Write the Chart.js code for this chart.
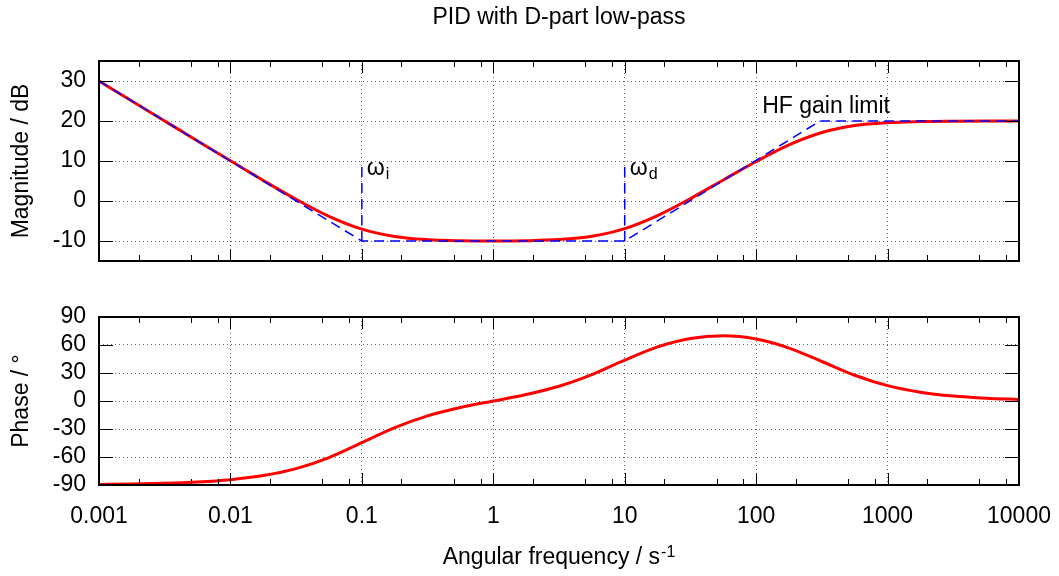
<!DOCTYPE html>
<html>
<head>
<meta charset="utf-8">
<script src="https://cdn.jsdelivr.net/npm/chart.js@4.4.1/dist/chart.umd.min.js"></script>
<style>
html, body { margin: 0; padding: 0; background: #fff; }
#wrap { position: relative; width: 1059px; height: 576px; overflow: hidden; background: #fff; }
canvas { position: absolute; left: 0; }
#magChart { top: 0; width: 1059px; height: 290px; }
#phaseChart { top: 290px; width: 1059px; height: 286px; }
</style>
</head>
<body>
<div id="wrap">
  <canvas id="magChart" width="1059" height="290"></canvas>
  <canvas id="phaseChart" width="1059" height="286"></canvas>
</div>
<script>
// ---- data ----
const frequency = [0.001, 0.001778, 0.003162, 0.005623, 0.01, 0.01778, 0.03162, 0.05623,
  0.1, 0.1778, 0.3162, 0.5623, 1, 1.778, 3.162, 5.623, 10, 17.78, 31.62, 56.23,
  100, 177.8, 316.2, 562.3, 1000, 1778, 3162, 5623, 10000];
const magnitudeDb = [30.0, 25.0, 20.0, 15.01, 10.04, 5.13, 0.41, -3.83,
  -7.03, -8.87, -9.66, -9.94, -10.0, -9.93, -9.64, -8.80, -6.89, -3.63, 0.61, 5.26,
  9.88, 14.03, 17.13, 18.87, 19.60, 19.86, 19.95, 19.98, 19.99];
const phaseDeg = [-89.43, -88.98, -88.19, -86.78, -84.29, -79.91, -72.43, -60.57,
  -44.71, -28.57, -15.89, -6.93, 0, 6.93, 15.84, 28.31, 43.76, 58.0, 67.06, 69.81,
  66.37, 56.72, 42.31, 27.57, 16.46, 9.45, 5.35, 3.02, 1.70];
const asymptoteFreq = [0.001, 0.1, 10, 306, 10000];
const asymptoteDb = [30, -10, -10, 20, 20];
const cornerFreq = [0.1, 10];
const cornerSubscripts = ['i', 'd'];
const cornerMarkDb = [-10, 10];
const hfLabelAt = [100, 20];
const xTickValues = [0.001, 0.01, 0.1, 1, 10, 100, 1000, 10000];
const xTickLabels = ['0.001', '0.01', '0.1', '1', '10', '100', '1000', '10000'];
const minorMultipliers = [2, 5, 8];
const magTickValues = [-10, 0, 10, 20, 30];
const phaseTickValues = [-90, -60, -30, 0, 30, 60, 90];
const chartTitle = 'PID with D-part low-pass';
const magTitle = 'Magnitude / dB';
const phaseTitle = 'Phase / °';
const xTitleMain = 'Angular frequency / s';
const xTitleSup = '-1';
const hfLabel = 'HF gain limit';

// ---- styling ----
const FONT = '"Liberation Sans", Arial, Helvetica, sans-serif';
Chart.defaults.font.family = FONT;
Chart.defaults.font.size = 23;
Chart.defaults.color = '#000';
const gridColor = 'rgba(0,0,0,0.6)';

function xAxis(showLabels, height) {
  return {
    type: 'logarithmic',
    min: xTickValues[0],
    max: xTickValues[xTickValues.length - 1],
    afterBuildTicks: s => { s.ticks = xTickValues.map(v => ({ value: v, major: true })); },
    ticks: { display: showLabels, autoSkip: false, maxRotation: 0, minRotation: 0, padding: 18,
      callback: (v, i) => xTickLabels[i], font: { size: 23 }, color: '#000' },
    grid: { color: gridColor, lineWidth: 1, drawTicks: false },
    border: { display: false, dash: [1, 3] },
    afterFit: s => { s.height = height; s.paddingLeft = 0; s.paddingRight = 0; }
  };
}
function yAxis(min, max, tickValues, title) {
  return {
    min, max,
    afterBuildTicks: s => { s.ticks = tickValues.map(v => ({ value: v })); },
    ticks: { padding: 13, autoSkip: false, font: { size: 23 }, color: '#000' },
    grid: { color: gridColor, lineWidth: 1, drawTicks: false },
    border: { display: false, dash: [1, 3] },
    title: { display: true, text: title, font: { size: 23 }, color: '#000', padding: { top: 8, bottom: 0 } },
    afterFit: s => { s.width = 99; s.paddingTop = 0; s.paddingBottom = 0; }
  };
}

const framePlugin = {
  id: 'gnuFrame',
  afterDraw(chart) {
    const { ctx, chartArea: a } = chart;
    const x = chart.scales.x, y = chart.scales.y;
    ctx.save();
    ctx.setLineDash([]);
    ctx.strokeStyle = '#000';
    ctx.lineWidth = 1;
    ctx.beginPath();
    const vtick = (v, len) => {
      const px = Math.round(x.getPixelForValue(v)) + 0.5;
      ctx.moveTo(px, a.top); ctx.lineTo(px, a.top + len);
      ctx.moveTo(px, a.bottom); ctx.lineTo(px, a.bottom - len);
    };
    xTickValues.forEach(v => vtick(v, 12));
    xTickValues.slice(0, -1).forEach(d => minorMultipliers.forEach(m => vtick(d * m, 6)));
    y.ticks.forEach(t => {
      const py = Math.round(y.getPixelForValue(t.value)) + 0.5;
      ctx.moveTo(a.left, py); ctx.lineTo(a.left + 14, py);
      ctx.moveTo(a.right, py); ctx.lineTo(a.right - 14, py);
    });
    ctx.stroke();
    ctx.lineWidth = 2;
    ctx.strokeRect(a.left, a.top, a.right - a.left, a.bottom - a.top);
    ctx.restore();
  }
};

const magTextPlugin = {
  id: 'magText',
  afterDraw(chart) {
    const { ctx, chartArea: a, scales: { x, y } } = chart;
    ctx.save();
    ctx.fillStyle = '#000';
    ctx.font = '23px ' + FONT;
    ctx.textAlign = 'center';
    ctx.textBaseline = 'middle';
    ctx.fillText(chartTitle, (a.left + a.right) / 2, 18);
    ctx.textAlign = 'left';
    ctx.textBaseline = 'alphabetic';
    cornerFreq.forEach((f, i) => {
      const px = x.getPixelForValue(f) + 5;
      const py = y.getPixelForValue(cornerMarkDb[1]) + 14;
      ctx.font = '23px ' + FONT;
      ctx.fillText('ω', px, py);
      const w = ctx.measureText('ω').width;
      ctx.font = '16px ' + FONT;
      ctx.fillText(cornerSubscripts[i], px + w + 1, py + 4);
    });
    ctx.font = '23px ' + FONT;
    ctx.fillText(hfLabel, x.getPixelForValue(hfLabelAt[0]) + 6, y.getPixelForValue(hfLabelAt[1]) - 8);
    ctx.restore();
  }
};

const phaseTextPlugin = {
  id: 'phaseText',
  afterDraw(chart) {
    const { ctx, chartArea: a } = chart;
    ctx.save();
    ctx.fillStyle = '#000';
    ctx.textBaseline = 'alphabetic';
    ctx.textAlign = 'left';
    ctx.font = '23px ' + FONT;
    const wMain = ctx.measureText(xTitleMain).width;
    ctx.font = '16px ' + FONT;
    const wSup = ctx.measureText(xTitleSup).width;
    const total = wMain + 1 + wSup;
    const x0 = (a.left + a.right) / 2 - total / 2;
    const base = 274;
    ctx.font = '23px ' + FONT;
    ctx.fillText(xTitleMain, x0, base);
    ctx.font = '16px ' + FONT;
    ctx.fillText(xTitleSup, x0 + wMain + 1, base - 7);
    ctx.restore();
  }
};

const toPoints = (xs, ys) => xs.map((v, i) => ({ x: v, y: ys[i] }));
const blueStyle = { borderColor: '#0000ff', borderWidth: 1.5, borderDash: [10, 6], pointRadius: 0, fill: false, tension: 0 };
const redStyle = { borderColor: '#ff0000', borderWidth: 3, pointRadius: 0, fill: false, cubicInterpolationMode: 'monotone' };

new Chart(document.getElementById('magChart'), {
  type: 'line',
  data: {
    datasets: [
      Object.assign({ label: 'asymptote', data: toPoints(asymptoteFreq, asymptoteDb) }, blueStyle),
      Object.assign({ label: 'omega_i', data: toPoints([cornerFreq[0], cornerFreq[0]], cornerMarkDb) }, blueStyle),
      Object.assign({ label: 'omega_d', data: toPoints([cornerFreq[1], cornerFreq[1]], cornerMarkDb) }, blueStyle),
      Object.assign({ label: 'magnitude', data: toPoints(frequency, magnitudeDb) }, redStyle)
    ]
  },
  options: {
    responsive: false,
    animation: false,
    layout: { padding: { left: 0, right: 40, top: 61, bottom: 29 } },
    plugins: { legend: { display: false }, tooltip: { enabled: false }, title: { display: false } },
    scales: { x: xAxis(false, 0), y: yAxis(-15, 35, magTickValues, magTitle) }
  },
  plugins: [framePlugin, magTextPlugin]
});

new Chart(document.getElementById('phaseChart'), {
  type: 'line',
  data: {
    datasets: [
      Object.assign({ label: 'phase', data: toPoints(frequency, phaseDeg) }, redStyle)
    ]
  },
  options: {
    responsive: false,
    animation: false,
    layout: { padding: { left: 0, right: 40, top: 27, bottom: 0 } },
    plugins: { legend: { display: false }, tooltip: { enabled: false }, title: { display: false } },
    scales: { x: xAxis(true, 91), y: yAxis(-90, 90, phaseTickValues, phaseTitle) }
  },
  plugins: [framePlugin, phaseTextPlugin]
});
</script>
</body>
</html>
